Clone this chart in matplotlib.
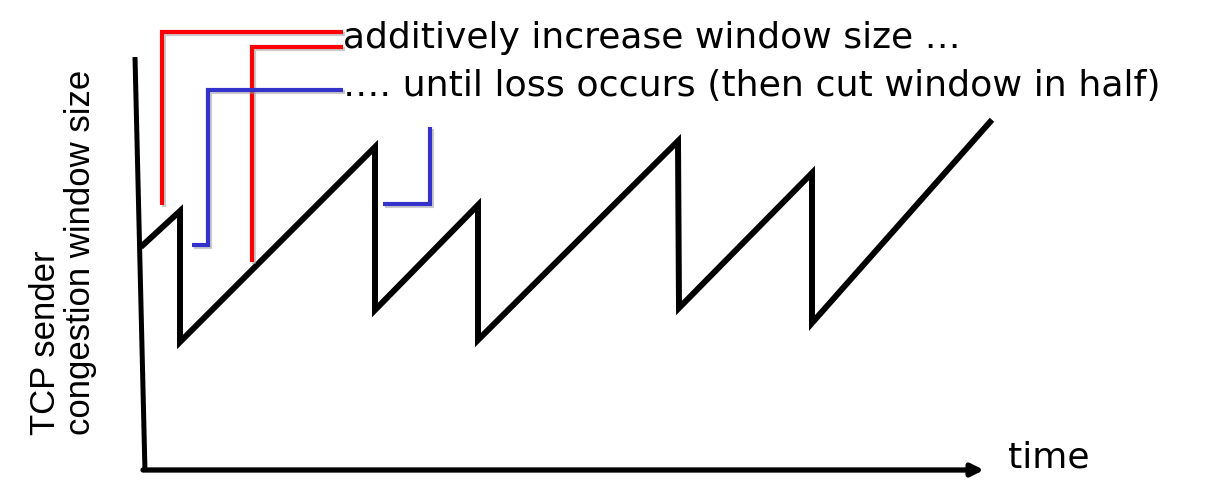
import matplotlib
matplotlib.use("Agg")
import matplotlib.pyplot as plt
import matplotlib.patheffects as pe

# sawtooth of the congestion window (pixel-space reading of the picture)
saw_x = [143, 180, 180, 375, 375, 478, 478, 678, 679, 812, 812, 990]
saw_y = [245, 211, 342, 147, 310, 205, 340, 141, 308, 173, 323, 122]

# callout brackets
red_a_x = [162, 162, 343]
red_a_y = [205, 32, 32]
red_b_x = [252, 252, 343]
red_b_y = [262, 47, 47]
blue_a_x = [192, 208, 208, 343]
blue_a_y = [245, 245, 90, 90]
blue_b_x = [383, 430, 430]
blue_b_y = [204, 204, 127]

# axes
yaxis_x = [135, 145]
yaxis_y = [57, 472]
xaxis_start = (143, 470)
xaxis_end = (984, 470)

text_top = "additively increase window size …"
text_mid = "…. until loss occurs (then cut window in half)"
ylabel_lines = "TCP sender\ncongestion window size"
xlabel = "time"

fig = plt.figure(figsize=(12.05, 4.82), dpi=100)
ax = fig.add_axes([0, 0, 1, 1])
ax.set_xlim(0, 1205)
ax.set_ylim(482, 0)
ax.axis("off")

shadow = [pe.SimpleLineShadow(offset=(1.2, -1.2), shadow_color="0.6", alpha=0.5), pe.Normal()]

ax.plot(yaxis_x, yaxis_y, color="black", lw=3.6, solid_capstyle="butt")
ax.annotate("", xy=xaxis_end, xytext=xaxis_start,
            arrowprops=dict(arrowstyle="-|>", lw=3.8, color="black",
                            mutation_scale=18, shrinkA=0, shrinkB=0))

ax.plot(saw_x, saw_y, color="black", lw=4.3, solid_joinstyle="miter")

for xs, ys in [(red_a_x, red_a_y), (red_b_x, red_b_y)]:
    ax.plot(xs, ys, color="#ff0000", lw=3.0, solid_joinstyle="miter",
            solid_capstyle="butt", path_effects=shadow)
for xs, ys in [(blue_a_x, blue_a_y), (blue_b_x, blue_b_y)]:
    ax.plot(xs, ys, color="#3333cc", lw=3.0, solid_joinstyle="miter",
            solid_capstyle="butt", path_effects=shadow)

ax.text(343, 48, text_top, fontsize=26, family="DejaVu Sans",
        ha="left", va="baseline")
ax.text(343, 96, text_mid, fontsize=26.2, family="DejaVu Sans",
        ha="left", va="baseline")
ax.text(1008, 468, xlabel, fontsize=26, family="DejaVu Sans",
        ha="left", va="baseline")
ax.text(63, 252, ylabel_lines, fontsize=25, family="Liberation Sans",
        rotation=90, ha="center", va="center", linespacing=1.05,
        multialignment="left")

fig.savefig("out.png", dpi=100)
